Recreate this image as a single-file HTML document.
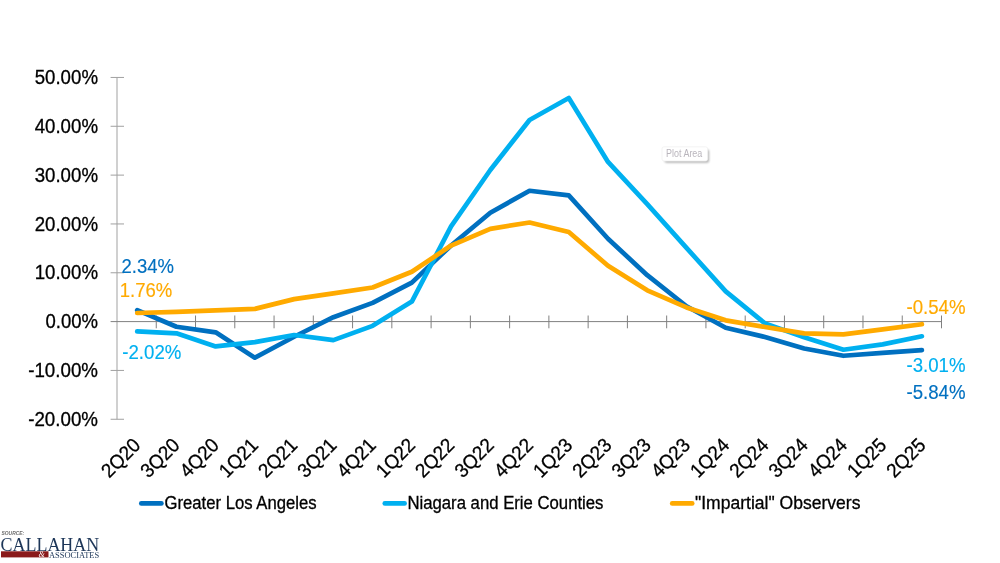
<!DOCTYPE html>
<html lang="en">
<head>
<meta charset="utf-8">
<title>Chart</title>
<style>
html,body{margin:0;padding:0;background:#fff;}
body{width:1000px;height:563px;overflow:hidden;}
svg{display:block;}
text{font-family:"Liberation Sans",sans-serif;}
.serif{font-family:"Liberation Serif",serif;}
</style>
</head>
<body>

<svg width="1000" height="563" viewBox="0 0 1000 563">
<rect width="1000" height="563" fill="#fff"/>
<line x1="117.0" y1="77.45" x2="117.0" y2="419.26" stroke="#D0D0D0" stroke-width="2"/>
<g stroke="#A0A0A0" stroke-width="1" fill="none">
<line x1="110.6" y1="419.26" x2="124" y2="419.26"/>
<line x1="110.6" y1="370.43" x2="124" y2="370.43"/>
<line x1="110.6" y1="272.77" x2="124" y2="272.77"/>
<line x1="110.6" y1="223.94" x2="124" y2="223.94"/>
<line x1="110.6" y1="175.11" x2="124" y2="175.11"/>
<line x1="110.6" y1="126.28" x2="124" y2="126.28"/>
<line x1="110.6" y1="77.45" x2="124" y2="77.45"/>
</g>
<g stroke="#808080" stroke-width="1" fill="none">
<line x1="110.6" y1="321.6" x2="942.0" y2="321.6"/>
<line x1="156.26" y1="315.5" x2="156.26" y2="328.3"/>
<line x1="195.52" y1="315.5" x2="195.52" y2="328.3"/>
<line x1="234.79" y1="315.5" x2="234.79" y2="328.3"/>
<line x1="274.05" y1="315.5" x2="274.05" y2="328.3"/>
<line x1="313.31" y1="315.5" x2="313.31" y2="328.3"/>
<line x1="352.57" y1="315.5" x2="352.57" y2="328.3"/>
<line x1="391.83" y1="315.5" x2="391.83" y2="328.3"/>
<line x1="431.10" y1="315.5" x2="431.10" y2="328.3"/>
<line x1="470.36" y1="315.5" x2="470.36" y2="328.3"/>
<line x1="509.62" y1="315.5" x2="509.62" y2="328.3"/>
<line x1="548.88" y1="315.5" x2="548.88" y2="328.3"/>
<line x1="588.14" y1="315.5" x2="588.14" y2="328.3"/>
<line x1="627.40" y1="315.5" x2="627.40" y2="328.3"/>
<line x1="666.67" y1="315.5" x2="666.67" y2="328.3"/>
<line x1="705.93" y1="315.5" x2="705.93" y2="328.3"/>
<line x1="745.19" y1="315.5" x2="745.19" y2="328.3"/>
<line x1="784.45" y1="315.5" x2="784.45" y2="328.3"/>
<line x1="823.71" y1="315.5" x2="823.71" y2="328.3"/>
<line x1="862.98" y1="315.5" x2="862.98" y2="328.3"/>
<line x1="902.24" y1="315.5" x2="902.24" y2="328.3"/>
<line x1="941.50" y1="315.5" x2="941.50" y2="328.3"/>
</g>
<text transform="translate(98.00,425.86) scale(0.9497,1)" font-size="19.76" text-anchor="end" fill="#000" stroke="#000" stroke-width="0.3">-20.00%</text>
<text transform="translate(98.00,377.03) scale(0.9497,1)" font-size="19.76" text-anchor="end" fill="#000" stroke="#000" stroke-width="0.3">-10.00%</text>
<text transform="translate(98.00,328.20) scale(0.9380,1)" font-size="19.76" text-anchor="end" fill="#000" stroke="#000" stroke-width="0.3">0.00%</text>
<text transform="translate(98.00,279.37) scale(0.9455,1)" font-size="19.76" text-anchor="end" fill="#000" stroke="#000" stroke-width="0.3">10.00%</text>
<text transform="translate(98.00,230.54) scale(0.9455,1)" font-size="19.76" text-anchor="end" fill="#000" stroke="#000" stroke-width="0.3">20.00%</text>
<text transform="translate(98.00,181.71) scale(0.9455,1)" font-size="19.76" text-anchor="end" fill="#000" stroke="#000" stroke-width="0.3">30.00%</text>
<text transform="translate(98.00,132.88) scale(0.9455,1)" font-size="19.76" text-anchor="end" fill="#000" stroke="#000" stroke-width="0.3">40.00%</text>
<text transform="translate(98.00,84.05) scale(0.9455,1)" font-size="19.76" text-anchor="end" fill="#000" stroke="#000" stroke-width="0.3">50.00%</text>
<text transform="translate(141.63,446.50) rotate(-45) scale(0.9470,1)" font-size="19.76" text-anchor="end" fill="#000" stroke="#000" stroke-width="0.3">2Q20</text>
<text transform="translate(180.89,446.50) rotate(-45) scale(0.9470,1)" font-size="19.76" text-anchor="end" fill="#000" stroke="#000" stroke-width="0.3">3Q20</text>
<text transform="translate(220.15,446.50) rotate(-45) scale(0.9470,1)" font-size="19.76" text-anchor="end" fill="#000" stroke="#000" stroke-width="0.3">4Q20</text>
<text transform="translate(259.42,446.50) rotate(-45) scale(0.9470,1)" font-size="19.76" text-anchor="end" fill="#000" stroke="#000" stroke-width="0.3">1Q21</text>
<text transform="translate(298.68,446.50) rotate(-45) scale(0.9470,1)" font-size="19.76" text-anchor="end" fill="#000" stroke="#000" stroke-width="0.3">2Q21</text>
<text transform="translate(337.94,446.50) rotate(-45) scale(0.9470,1)" font-size="19.76" text-anchor="end" fill="#000" stroke="#000" stroke-width="0.3">3Q21</text>
<text transform="translate(377.20,446.50) rotate(-45) scale(0.9470,1)" font-size="19.76" text-anchor="end" fill="#000" stroke="#000" stroke-width="0.3">4Q21</text>
<text transform="translate(416.46,446.50) rotate(-45) scale(0.9470,1)" font-size="19.76" text-anchor="end" fill="#000" stroke="#000" stroke-width="0.3">1Q22</text>
<text transform="translate(455.73,446.50) rotate(-45) scale(0.9470,1)" font-size="19.76" text-anchor="end" fill="#000" stroke="#000" stroke-width="0.3">2Q22</text>
<text transform="translate(494.99,446.50) rotate(-45) scale(0.9470,1)" font-size="19.76" text-anchor="end" fill="#000" stroke="#000" stroke-width="0.3">3Q22</text>
<text transform="translate(534.25,446.50) rotate(-45) scale(0.9470,1)" font-size="19.76" text-anchor="end" fill="#000" stroke="#000" stroke-width="0.3">4Q22</text>
<text transform="translate(573.51,446.50) rotate(-45) scale(0.9470,1)" font-size="19.76" text-anchor="end" fill="#000" stroke="#000" stroke-width="0.3">1Q23</text>
<text transform="translate(612.77,446.50) rotate(-45) scale(0.9470,1)" font-size="19.76" text-anchor="end" fill="#000" stroke="#000" stroke-width="0.3">2Q23</text>
<text transform="translate(652.04,446.50) rotate(-45) scale(0.9470,1)" font-size="19.76" text-anchor="end" fill="#000" stroke="#000" stroke-width="0.3">3Q23</text>
<text transform="translate(691.30,446.50) rotate(-45) scale(0.9470,1)" font-size="19.76" text-anchor="end" fill="#000" stroke="#000" stroke-width="0.3">4Q23</text>
<text transform="translate(730.56,446.50) rotate(-45) scale(0.9470,1)" font-size="19.76" text-anchor="end" fill="#000" stroke="#000" stroke-width="0.3">1Q24</text>
<text transform="translate(769.82,446.50) rotate(-45) scale(0.9470,1)" font-size="19.76" text-anchor="end" fill="#000" stroke="#000" stroke-width="0.3">2Q24</text>
<text transform="translate(809.08,446.50) rotate(-45) scale(0.9470,1)" font-size="19.76" text-anchor="end" fill="#000" stroke="#000" stroke-width="0.3">3Q24</text>
<text transform="translate(848.35,446.50) rotate(-45) scale(0.9470,1)" font-size="19.76" text-anchor="end" fill="#000" stroke="#000" stroke-width="0.3">4Q24</text>
<text transform="translate(887.61,446.50) rotate(-45) scale(0.9470,1)" font-size="19.76" text-anchor="end" fill="#000" stroke="#000" stroke-width="0.3">1Q25</text>
<text transform="translate(926.87,446.50) rotate(-45) scale(0.9470,1)" font-size="19.76" text-anchor="end" fill="#000" stroke="#000" stroke-width="0.3">2Q25</text>
<polyline points="137.20,310.17 176.44,326.78 215.67,332.34 254.90,357.73 294.14,336.74 333.38,317.21 372.61,302.90 411.84,282.63 451.08,245.43 490.31,212.71 529.55,190.74 568.78,195.37 608.02,238.74 647.25,275.21 686.49,306.22 725.72,327.75 764.96,336.98 804.19,348.46 843.43,355.78 882.66,352.85 921.90,350.12" fill="none" stroke="#0070C0" stroke-width="4.7" stroke-linecap="round" stroke-linejoin="round"/>
<polyline points="137.20,331.46 176.44,333.32 215.67,346.41 254.90,342.11 294.14,335.03 333.38,340.16 372.61,325.85 411.84,301.58 451.08,226.38 490.31,169.98 529.55,119.93 568.78,97.96 608.02,161.93 647.25,204.16 686.49,247.87 725.72,291.33 764.96,323.36 804.19,337.23 843.43,349.77 882.66,344.40 921.90,336.30" fill="none" stroke="#00B0F0" stroke-width="4.7" stroke-linecap="round" stroke-linejoin="round"/>
<polyline points="137.20,313.01 176.44,311.83 215.67,310.37 254.90,308.90 294.14,299.14 333.38,293.43 372.61,287.47 411.84,271.79 451.08,245.57 490.31,228.82 529.55,222.48 568.78,232.00 608.02,265.79 647.25,290.35 686.49,307.44 725.72,320.33 764.96,326.97 804.19,333.32 843.43,334.30 882.66,329.41 921.90,324.24" fill="none" stroke="#FFAA00" stroke-width="4.7" stroke-linecap="round" stroke-linejoin="round"/>
<text transform="translate(121.50,273.00) scale(0.9380,1)" font-size="19.76" text-anchor="start" fill="#0070C0" stroke="#0070C0" stroke-width="0.15">2.34%</text>
<text transform="translate(119.80,297.20) scale(0.9380,1)" font-size="19.76" text-anchor="start" fill="#FFAA00" stroke="#FFAA00" stroke-width="0.15">1.76%</text>
<text transform="translate(122.30,359.30) scale(0.9437,1)" font-size="19.76" text-anchor="start" fill="#00B0F0" stroke="#00B0F0" stroke-width="0.15">-2.02%</text>
<text transform="translate(906.50,313.70) scale(0.9437,1)" font-size="19.76" text-anchor="start" fill="#FFAA00" stroke="#FFAA00" stroke-width="0.15">-0.54%</text>
<text transform="translate(906.50,371.50) scale(0.9437,1)" font-size="19.76" text-anchor="start" fill="#00B0F0" stroke="#00B0F0" stroke-width="0.15">-3.01%</text>
<text transform="translate(906.50,398.50) scale(0.9437,1)" font-size="19.76" text-anchor="start" fill="#0070C0" stroke="#0070C0" stroke-width="0.15">-5.84%</text>
<line x1="141.3" y1="503.4" x2="161.4" y2="503.4" stroke="#0070C0" stroke-width="4.7" stroke-linecap="round"/>
<text transform="translate(164.50,508.60) scale(0.9531,1)" font-size="17.51" text-anchor="start" fill="#000" stroke="#000" stroke-width="0.3">Greater Los Angeles</text>
<line x1="384.8" y1="503.4" x2="404.6" y2="503.4" stroke="#00B0F0" stroke-width="4.7" stroke-linecap="round"/>
<text transform="translate(407.40,508.60) scale(0.9557,1)" font-size="17.51" text-anchor="start" fill="#000" stroke="#000" stroke-width="0.3">Niagara and Erie Counties</text>
<line x1="672.2" y1="503.4" x2="692.2" y2="503.4" stroke="#FFAA00" stroke-width="4.7" stroke-linecap="round"/>
<text transform="translate(695.00,508.60) scale(1.0023,1)" font-size="17.51" text-anchor="start" fill="#000" stroke="#000" stroke-width="0.3">&quot;Impartial&quot; Observers</text>
<defs><filter id="sh" x="-20%" y="-40%" width="140%" height="180%"><feGaussianBlur stdDeviation="0.9"/></filter></defs>
<rect x="664.5" y="149.5" width="44.6" height="13.2" rx="2" fill="#000" opacity="0.3" filter="url(#sh)"/>
<rect x="662" y="146.8" width="45.6" height="14.2" rx="2" fill="#fff" stroke="#F0F0F0" stroke-width="0.8"/>
<text transform="translate(666,156.9) scale(0.8462,1)" font-size="10.6" fill="#B9B5BC">Plot Area</text>
<text transform="translate(1.5,534.6) scale(0.88,1)" font-size="5.6" font-weight="bold" font-style="italic" fill="#6E6E6E">SOURCE:</text>
<text class="serif" x="0.6" y="550.6" font-size="18.0" fill="#1D3658" textLength="98.6" lengthAdjust="spacingAndGlyphs">CALLAHAN</text>
<rect x="1" y="551.3" width="47.5" height="6.1" fill="#8A1A1B"/>
<text class="serif" x="38.6" y="557.3" font-size="8" font-style="italic" fill="#fff">&amp;</text>
<text class="serif" x="49" y="557.6" font-size="8.4" fill="#1D3658" textLength="50.2" lengthAdjust="spacingAndGlyphs">ASSOCIATES</text>
</svg>
</body>
</html>
